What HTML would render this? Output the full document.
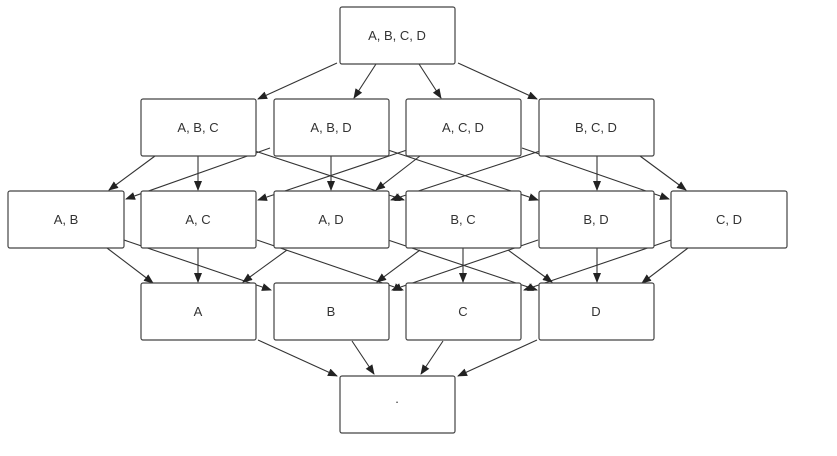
<!DOCTYPE html>
<html><head><style>
body{margin:0;background:#fff;width:837px;height:451px;overflow:hidden}
svg{font-family:"Liberation Sans",sans-serif}
</style></head><body>
<svg width="837" height="451" viewBox="0 0 837 451">
<defs><marker id="a" markerWidth="10" markerHeight="8" refX="9" refY="4" orient="auto" markerUnits="userSpaceOnUse"><path d="M0,0 L10,4 L0,8 z" fill="#222"/></marker></defs>
<g stroke="#333" stroke-width="1.1" fill="none" marker-end="url(#a)">
<line x1="337" y1="63" x2="258" y2="99"/>
<line x1="376" y1="64" x2="354" y2="98"/>
<line x1="419" y1="64" x2="441" y2="98"/>
<line x1="458" y1="63" x2="537" y2="99"/>

<line x1="155" y1="156" x2="109" y2="190"/>
<line x1="198" y1="156" x2="198" y2="190"/>
<line x1="252" y1="150" x2="404" y2="200"/>
<line x1="270" y1="148" x2="126" y2="199"/>
<line x1="331" y1="156" x2="331" y2="190"/>
<line x1="388" y1="150" x2="538" y2="200"/>
<line x1="407" y1="150" x2="258" y2="200"/>
<line x1="420" y1="156" x2="376" y2="190"/>
<line x1="522" y1="148" x2="669" y2="199"/>
<line x1="640" y1="156" x2="686" y2="190"/>
<line x1="597" y1="156" x2="597" y2="190"/>
<line x1="543" y1="150" x2="391" y2="200"/>

<line x1="107" y1="248" x2="153" y2="283"/>
<line x1="124" y1="240" x2="271" y2="290"/>
<line x1="198" y1="248" x2="198" y2="282"/>
<line x1="257" y1="240" x2="403" y2="290"/>
<line x1="287" y1="250" x2="243" y2="282"/>
<line x1="388" y1="240" x2="537" y2="290"/>
<line x1="420" y1="250" x2="377" y2="282"/>
<line x1="463" y1="248" x2="463" y2="282"/>
<line x1="538" y1="240" x2="392" y2="290"/>
<line x1="597" y1="248" x2="597" y2="282"/>
<line x1="671" y1="240" x2="524" y2="290"/>
<line x1="688" y1="248" x2="642" y2="283"/>
<line x1="508" y1="250" x2="552" y2="282"/>

<line x1="258" y1="340" x2="337" y2="376"/>
<line x1="352" y1="341" x2="374" y2="374"/>
<line x1="443" y1="341" x2="421" y2="374"/>
<line x1="537" y1="340" x2="458" y2="376"/>
</g>
<g stroke="#444" stroke-width="1.2" fill="#fff">
<rect x="340" y="7" width="115" height="57" rx="2"/>
<rect x="141" y="99" width="115" height="57" rx="2"/>
<rect x="274" y="99" width="115" height="57" rx="2"/>
<rect x="406" y="99" width="115" height="57" rx="2"/>
<rect x="539" y="99" width="115" height="57" rx="2"/>
<rect x="8" y="191" width="116" height="57" rx="2"/>
<rect x="141" y="191" width="115" height="57" rx="2"/>
<rect x="274" y="191" width="115" height="57" rx="2"/>
<rect x="406" y="191" width="115" height="57" rx="2"/>
<rect x="539" y="191" width="115" height="57" rx="2"/>
<rect x="671" y="191" width="116" height="57" rx="2"/>
<rect x="141" y="283" width="115" height="57" rx="2"/>
<rect x="274" y="283" width="115" height="57" rx="2"/>
<rect x="406" y="283" width="115" height="57" rx="2"/>
<rect x="539" y="283" width="115" height="57" rx="2"/>
<rect x="340" y="376" width="115" height="57" rx="2"/>
</g>
<g font-size="13" fill="#333" text-anchor="middle">
<text x="397" y="40">A, B, C, D</text>
<text x="198" y="132">A, B, C</text>
<text x="331" y="132">A, B, D</text>
<text x="463" y="132">A, C, D</text>
<text x="596" y="132">B, C, D</text>
<text x="66" y="224">A, B</text>
<text x="198" y="224">A, C</text>
<text x="331" y="224">A, D</text>
<text x="463" y="224">B, C</text>
<text x="596" y="224">B, D</text>
<text x="729" y="224">C, D</text>
<text x="198" y="316">A</text>
<text x="331" y="316">B</text>
<text x="463" y="316">C</text>
<text x="596" y="316">D</text>
<text x="397" y="406">·</text>
</g>
</svg>
</body></html>
